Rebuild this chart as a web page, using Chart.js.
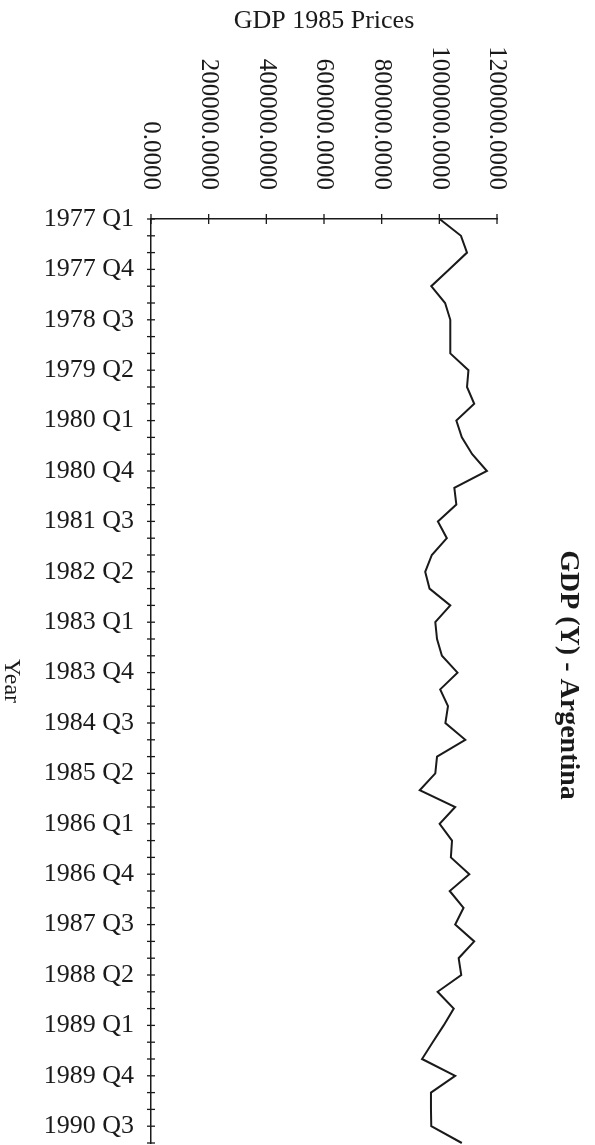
<!DOCTYPE html>
<html>
<head>
<meta charset="utf-8">
<title>GDP (Y) - Argentina</title>
<script src="https://cdn.jsdelivr.net/npm/chart.js@4/dist/chart.umd.min.js"></script>
<style>
  html, body { margin: 0; padding: 0; background: #fff; overflow: hidden; }
  canvas { display: block; }
</style>
</head>
<body>
<canvas id="myChart" width="595" height="1145"></canvas>
<script>
  /////////////////////////////////////
 /*              DATA               */
/////////////////////////////////////

var years = [1977, 1978, 1979, 1980, 1981, 1982, 1983, 1984, 1985, 1986, 1987, 1988, 1989, 1990];
var quarters = ["Q1", "Q2", "Q3", "Q4"];

// GDP at 1985 prices, one value per quarter, 1977 Q1 .. 1990 Q4
var gdp = [
  1001000, 1075000, 1096000, 1034000,
  972000, 1020000, 1038000, 1038000,
  1038000, 1101000, 1096000, 1121000,
  1059000, 1078000, 1114000, 1165000,
  1052000, 1059000, 995000, 1026000,
  974000, 951000, 966000, 1038000,
  986000, 992000, 1009000, 1063000,
  1003000, 1030000, 1021000, 1090000,
  992000, 986000, 932000, 1055000,
  1001000, 1044000, 1040000, 1104000,
  1036000, 1084000, 1055000, 1121000,
  1067000, 1076000, 994000, 1050000,
  1015000, 977000, 940000, 1055000,
  971000, 971000, 972000, 1078000
];

var valueTicks = [0, 200000, 400000, 600000, 800000, 1000000, 1200000];

var chartTitle = "GDP (Y) - Argentina";
var valueTitle = "GDP 1985 Prices";
var categoryTitle = "Year";

// category labels built from years x quarters
var periods = [];
for (var i = 0; i < years.length; i++) {
  for (var q = 0; q < quarters.length; q++) {
    periods.push(years[i] + " " + quarters[q]);
  }
}

var serif = '"Liberation Serif", "Times New Roman", serif';
var ink = "#1a1a1a";

  /////////////////////////////////////
 /*  ROTATED TEXT + CROSSING TICKS  */
/////////////////////////////////////

var extras = {
  id: "extras",
  afterDraw: function(chart) {
    var ctx = chart.ctx;
    var area = chart.chartArea;
    var xs = chart.scales.x;
    var ys = chart.scales.y;

    ctx.save();
    ctx.strokeStyle = ink;
    ctx.lineWidth = 1.3;

    // tick marks on the value axis (cross the line)
    for (var i = 0; i < valueTicks.length; i++) {
      var px = xs.getPixelForValue(valueTicks[i]);
      ctx.beginPath();
      ctx.moveTo(px, area.top - 5);
      ctx.lineTo(px, area.top + 5);
      ctx.stroke();
    }
    // tick marks on the category axis, one per quarter
    for (var j = 0; j < periods.length; j++) {
      var py = ys.getPixelForValue(j);
      ctx.beginPath();
      ctx.moveTo(area.left - 4, py);
      ctx.lineTo(area.left + 4, py);
      ctx.stroke();
    }

    ctx.fillStyle = ink;

    // value tick labels, turned clockwise
    ctx.font = "25px " + serif;
    ctx.textAlign = "right";
    ctx.textBaseline = "middle";
    for (var k = 0; k < valueTicks.length; k++) {
      var tx = xs.getPixelForValue(valueTicks[k]);
      ctx.save();
      ctx.translate(tx, area.top - 29);
      ctx.rotate(Math.PI / 2);
      ctx.fillText(valueTicks[k].toFixed(4), 0, 0);
      ctx.restore();
    }

    // main title on the right
    ctx.textAlign = "center";
    ctx.font = "bold 28px " + serif;
    ctx.save();
    ctx.translate(568, (area.top + area.bottom) / 2 - 6);
    ctx.rotate(Math.PI / 2);
    ctx.fillText(chartTitle, 0, 0);
    ctx.restore();

    // "Year" on the left
    ctx.font = "24px " + serif;
    ctx.save();
    ctx.translate(11, (area.top + area.bottom) / 2);
    ctx.rotate(Math.PI / 2);
    ctx.fillText(categoryTitle, 0, 0);
    ctx.restore();

    ctx.restore();
  }
};

  /////////////////////////////////////
 /*             CHART               */
/////////////////////////////////////

var ctx = document.getElementById("myChart").getContext("2d");
var chart = new Chart(ctx, {
  type: "line",
  data: {
    labels: periods,
    datasets: [{
      label: chartTitle,
      data: gdp,
      borderColor: ink,
      borderWidth: 2,
      pointRadius: 0,
      tension: 0,
      fill: false
    }]
  },
  options: {
    indexAxis: "y",
    responsive: false,
    animation: false,
    layout: { padding: { left: 0, right: 98, top: 0, bottom: 2 } },
    plugins: {
      legend: { display: false },
      tooltip: { enabled: false }
    },
    scales: {
      x: {
        type: "linear",
        position: "top",
        min: 0,
        max: 1200000,
        afterBuildTicks: function(axis) {
          axis.ticks = valueTicks.map(function(v) { return { value: v }; });
        },
        afterFit: function(axis) {
          axis.height = 219;
          axis.paddingLeft = 0;
          axis.paddingRight = 0;
        },
        grid: { display: false, drawTicks: false },
        border: { display: true, color: ink, width: 1.5 },
        ticks: { display: false },
        title: {
          display: true,
          text: valueTitle,
          color: ink,
          font: { family: serif, size: 26 },
          padding: { top: 6, bottom: 0 }
        }
      },
      y: {
        type: "category",
        position: "left",
        offset: false,
        afterFit: function(axis) {
          axis.width = 151;
          axis.paddingTop = 0;
          axis.paddingBottom = 0;
        },
        grid: { display: false, drawTicks: false },
        border: { display: true, color: ink, width: 1.5 },
        ticks: {
          autoSkip: false,
          padding: 17,
          color: ink,
          font: { family: serif, size: 26 },
          callback: function(value, index) {
            return index % 3 === 0 ? periods[index] : null;
          }
        }
      }
    }
  },
  plugins: [extras]
});
</script>
</body>
</html>
